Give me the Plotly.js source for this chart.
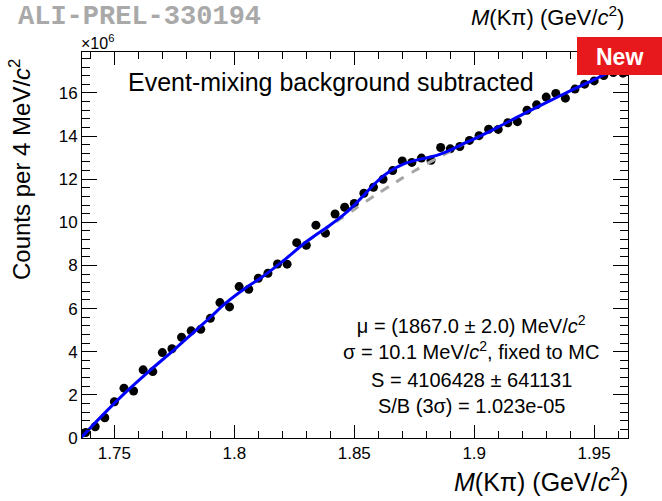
<!DOCTYPE html>
<html>
<head>
<meta charset="utf-8">
<script src="https://cdn.plot.ly/plotly-3.0.1.min.js"></script>
<style>
  html, body { margin: 0; padding: 0; background: #ffffff; }
  #chart { width: 662px; height: 501px; }
</style>
</head>
<body>
<div id="chart"></div>
<script>
// Invariant-mass bin centres (GeV/c^2), 4 MeV bins
const massBins = [
  1.738, 1.742, 1.746, 1.750, 1.754, 1.758, 1.762, 1.766, 1.770, 1.774,
  1.778, 1.782, 1.786, 1.790, 1.794, 1.798, 1.802, 1.806, 1.810, 1.814,
  1.818, 1.822, 1.826, 1.830, 1.834, 1.838, 1.842, 1.846, 1.850, 1.854,
  1.858, 1.862, 1.866, 1.870, 1.874, 1.878, 1.882, 1.886, 1.890, 1.894,
  1.898, 1.902, 1.906, 1.910, 1.914, 1.918, 1.922, 1.926, 1.930, 1.934,
  1.938, 1.942, 1.946, 1.950, 1.954, 1.958, 1.962
];

// Counts per bin after event-mixing background subtraction (x 10^6)
const countsPerBin = [
  0.25, 0.52, 0.94, 1.68, 2.31, 2.18, 3.16, 3.08, 3.96, 4.14,
  4.67, 4.97, 5.04, 5.55, 6.28, 6.08, 7.02, 6.90, 7.41, 7.64,
  8.07, 8.06, 9.06, 8.94, 9.87, 9.50, 10.39, 10.70, 10.88, 11.35,
  11.63, 12.00, 12.40, 12.85, 12.78, 12.98, 12.88, 13.47, 13.41, 13.52,
  13.80, 14.02, 14.32, 14.31, 14.62, 14.67, 15.20, 15.45, 15.81, 15.98,
  15.76, 16.18, 16.41, 16.56, 16.81, 16.95, 16.92
];

// Total fit (signal + residual background), sampled along the curve
const fitMass = [
  1.736, 1.745, 1.755, 1.765, 1.775, 1.783, 1.790, 1.796, 1.805, 1.811,
  1.820, 1.830, 1.840, 1.845, 1.850, 1.855, 1.860, 1.865, 1.870, 1.875,
  1.880, 1.885, 1.890, 1.895, 1.902, 1.910, 1.920, 1.930, 1.940, 1.950,
  1.957, 1.964
];
const fitCounts = [
  0.00, 1.05, 2.15, 3.15, 4.10, 4.90, 5.60, 6.22, 6.98, 7.42,
  8.18, 9.10, 9.88, 10.30, 10.80, 11.38, 11.95, 12.38, 12.68, 12.86,
  12.99, 13.13, 13.35, 13.62, 13.98, 14.42, 15.00, 15.55, 16.10, 16.62,
  17.00, 17.32
];

// Residual background component of the fit
const bkgMass = [
  1.830, 1.840, 1.845, 1.850, 1.855, 1.860, 1.865, 1.870, 1.875, 1.880,
  1.885, 1.890, 1.895, 1.902
];
const bkgCounts = [
  9.10, 9.85, 10.22, 10.60, 10.98, 11.35, 11.70, 12.05, 12.38, 12.70,
  13.00, 13.30, 13.60, 13.98
];

// Axis tick labels
const xTickVals = [1.75, 1.80, 1.85, 1.90, 1.95];
const xTickText = ['1.75', '1.8', '1.85', '1.9', '1.95'];
const yTickVals = [0, 2, 4, 6, 8, 10, 12, 14, 16];
const yTickText = ['0', '2', '4', '6', '8', '10', '12', '14', '16'];

// Fit results, two blocks of two lines
const fitParamLines = [
  'μ = (1867.0 ± 2.0) MeV/<i>c</i><sup>2</sup>',
  'σ = 10.1 MeV/<i>c</i><sup>2</sup>, fixed to MC'
];
const yieldLines = [
  'S = 4106428 ± 641131',
  'S/B (3σ) = 1.023e-05'
];

const FONT = 'Liberation Sans, Arial, Helvetica, sans-serif';

const traces = [
  {
    x: massBins, y: countsPerBin, type: 'scatter', mode: 'markers',
    marker: { color: '#000000', size: 9, symbol: 'circle' },
    hoverinfo: 'skip'
  },
  {
    x: bkgMass, y: bkgCounts, type: 'scatter', mode: 'lines',
    line: { color: '#a6a6a6', width: 3, dash: 'dash', shape: 'spline', smoothing: 0.8 },
    hoverinfo: 'skip'
  },
  {
    x: fitMass, y: fitCounts, type: 'scatter', mode: 'lines',
    line: { color: '#0000ff', width: 3, shape: 'spline', smoothing: 0.8 },
    hoverinfo: 'skip'
  }
];

// Paper coordinate helpers for the 546 x 386 px frame
const PL = 82, PR = 628, PT = 52, PB = 438;
const px = v => (v - PL) / (PR - PL);
const py = v => (PB - v) / (PB - PT);

const annotations = [
  {
    text: '<b>ALI-PREL-330194</b>', x: px(16), y: py(17), xref: 'paper', yref: 'paper',
    xanchor: 'left', yanchor: 'middle', showarrow: false,
    font: { family: 'Liberation Mono, Courier New, monospace', size: 27, color: '#a9a9a9' }
  },
  {
    text: '<i>M</i>(Kπ) (GeV/<i>c</i><sup>2</sup>)', x: px(626), y: py(16), xref: 'paper', yref: 'paper',
    xanchor: 'right', yanchor: 'middle', showarrow: false,
    font: { family: FONT, size: 22, color: '#000000' }
  },
  {
    text: '×10<sup>6</sup>', x: px(79), y: py(42), xref: 'paper', yref: 'paper',
    xanchor: 'left', yanchor: 'middle', showarrow: false,
    font: { family: FONT, size: 16, color: '#000000' }
  },
  {
    text: 'Event-mixing background subtracted', x: px(331), y: py(82), xref: 'paper', yref: 'paper',
    xanchor: 'center', yanchor: 'middle', showarrow: false,
    font: { family: FONT, size: 25, color: '#000000' }
  },
  {
    text: 'Counts per 4 MeV/<i>c</i><sup>2</sup>', x: px(20), y: py(170), xref: 'paper', yref: 'paper',
    xanchor: 'center', yanchor: 'middle', showarrow: false, textangle: -90,
    font: { family: FONT, size: 24, color: '#000000' }
  },
  {
    text: '<i>M</i>(Kπ) (GeV/<i>c</i><sup>2</sup>)', x: px(630), y: py(480), xref: 'paper', yref: 'paper',
    xanchor: 'right', yanchor: 'middle', showarrow: false,
    font: { family: FONT, size: 25, color: '#000000' }
  },
  {
    text: '<b>New</b>', x: px(619), y: py(57), xref: 'paper', yref: 'paper',
    xanchor: 'center', yanchor: 'middle', showarrow: false,
    font: { family: FONT, size: 23, color: '#ffffff' }
  },
  {
    text: fitParamLines.join('<br>'), x: px(471), y: py(337), xref: 'paper', yref: 'paper',
    xanchor: 'center', yanchor: 'middle', align: 'center', showarrow: false,
    font: { family: FONT, size: 20, color: '#000000' }
  },
  {
    text: yieldLines.join('<br>'), x: px(471), y: py(393), xref: 'paper', yref: 'paper',
    xanchor: 'center', yanchor: 'middle', align: 'center', showarrow: false,
    font: { family: FONT, size: 20, color: '#000000' }
  }
];

const axisCommon = {
  showgrid: false, zeroline: false, showline: true, linecolor: '#000000', linewidth: 1,
  mirror: 'ticks', ticks: 'inside', tickcolor: '#000000', tickwidth: 1,
  tickmode: 'array', tickfont: { family: FONT, size: 17, color: '#000000' }
};

const layout = {
  width: 662, height: 501,
  margin: { l: PL, r: 662 - PR, t: PT, b: 501 - PB, pad: 0 },
  paper_bgcolor: '#ffffff', plot_bgcolor: '#ffffff',
  showlegend: false,
  xaxis: Object.assign({}, axisCommon, {
    range: [1.7365, 1.9641], tickvals: xTickVals, ticktext: xTickText, ticklen: 13,
    minor: { dtick: 0.01, tick0: 1.75, ticks: 'inside', ticklen: 7, tickcolor: '#000000', tickwidth: 1, showgrid: false }
  }),
  yaxis: Object.assign({}, axisCommon, {
    range: [0, 17.9], tickvals: yTickVals, ticktext: yTickText, ticklen: 15,
    minor: { dtick: 0.4, tick0: 0, ticks: 'inside', ticklen: 8, tickcolor: '#000000', tickwidth: 1, showgrid: false }
  }),
  shapes: [
    {
      type: 'rect', xref: 'paper', yref: 'paper', layer: 'above',
      x0: px(577), x1: px(664), y0: py(75), y1: py(37),
      fillcolor: '#e8191d', line: { width: 0 }
    }
  ],
  annotations: annotations
};

Plotly.newPlot('chart', traces, layout, { displayModeBar: false, staticPlot: true });
</script>
</body>
</html>
